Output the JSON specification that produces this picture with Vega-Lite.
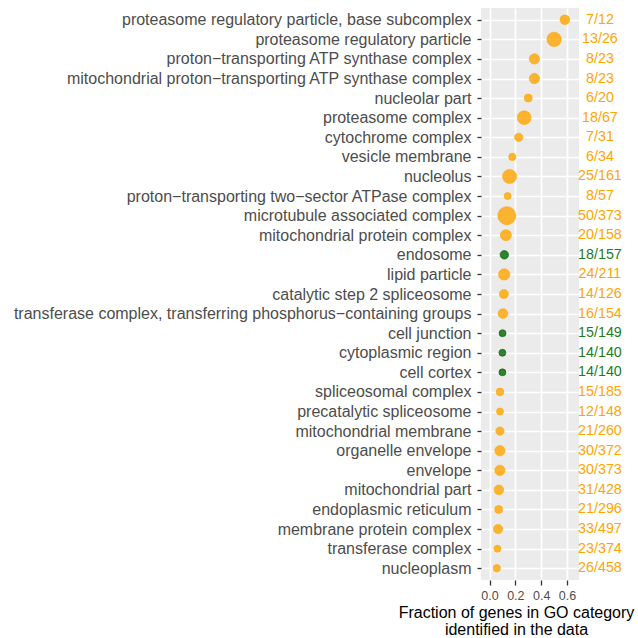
{
  "$schema": "https://vega.github.io/schema/vega-lite/v6.json",
  "autosize": {"type": "none"},
  "padding": {"left": 481, "top": 8, "right": 59, "bottom": 58},
  "width": 98,
  "height": 572,
  "config": {
    "font": "Liberation Sans",
    "view": {"fill": "#EBEBEB", "stroke": null},
    "axis": {"gridColor": "#FFFFFF", "gridWidth": 1.7, "domain": false, "tickColor": "#333333", "tickWidth": 1.3, "labelColor": "#4D4D4D"},
    "axisX": {
      "values": [0, 0.2, 0.4, 0.6], "format": ".1f", "labelFontSize": 12.5, "labelPadding": 4, "tickSize": 5, "labelOverlap": false, "labelFlush": false,
      "titleFontSize": 16, "titleFontWeight": "normal", "titleColor": "#000000",
      "titleLineHeight": 17, "titleBaseline": "alphabetic", "titleX": 35, "titleY": 37, "titleAlign": "center"
    }
  },
  "data": {
    "values": [
      {"term": "proteasome regulatory particle, base subcomplex", "fraction": 0.5833, "label": "7/12", "group": "orange", "score": 9.4},
      {"term": "proteasome regulatory particle", "fraction": 0.5, "label": "13/26", "group": "orange", "score": 20.4},
      {"term": "proton−transporting ATP synthase complex", "fraction": 0.3478, "label": "8/23", "group": "orange", "score": 10.6},
      {"term": "mitochondrial proton−transporting ATP synthase complex", "fraction": 0.3478, "label": "8/23", "group": "orange", "score": 10.6},
      {"term": "nucleolar part", "fraction": 0.3, "label": "6/20", "group": "orange", "score": 6.4},
      {"term": "proteasome complex", "fraction": 0.2687, "label": "18/67", "group": "orange", "score": 18.8},
      {"term": "cytochrome complex", "fraction": 0.2258, "label": "7/31", "group": "orange", "score": 6.9},
      {"term": "vesicle membrane", "fraction": 0.1765, "label": "6/34", "group": "orange", "score": 5.3},
      {"term": "nucleolus", "fraction": 0.1553, "label": "25/161", "group": "orange", "score": 19.6},
      {"term": "proton−transporting two−sector ATPase complex", "fraction": 0.1404, "label": "8/57", "group": "orange", "score": 4.9},
      {"term": "microtubule associated complex", "fraction": 0.134, "label": "50/373", "group": "orange", "score": 32.4},
      {"term": "mitochondrial protein complex", "fraction": 0.1266, "label": "20/158", "group": "orange", "score": 12.1},
      {"term": "endosome", "fraction": 0.1146, "label": "18/157", "group": "green", "score": 7.2},
      {"term": "lipid particle", "fraction": 0.1137, "label": "24/211", "group": "orange", "score": 12.8},
      {"term": "catalytic step 2 spliceosome", "fraction": 0.1111, "label": "14/126", "group": "orange", "score": 8.1},
      {"term": "transferase complex, transferring phosphorus−containing groups", "fraction": 0.1039, "label": "16/154", "group": "orange", "score": 9.4},
      {"term": "cell junction", "fraction": 0.1007, "label": "15/149", "group": "green", "score": 4.9},
      {"term": "cytoplasmic region", "fraction": 0.1, "label": "14/140", "group": "green", "score": 4.9},
      {"term": "cell cortex", "fraction": 0.1, "label": "14/140", "group": "green", "score": 4.9},
      {"term": "spliceosomal complex", "fraction": 0.0811, "label": "15/185", "group": "orange", "score": 5.9},
      {"term": "precatalytic spliceosome", "fraction": 0.0811, "label": "12/148", "group": "orange", "score": 4.9},
      {"term": "mitochondrial membrane", "fraction": 0.0808, "label": "21/260", "group": "orange", "score": 6.9},
      {"term": "organelle envelope", "fraction": 0.0806, "label": "30/372", "group": "orange", "score": 10.6},
      {"term": "envelope", "fraction": 0.0804, "label": "30/373", "group": "orange", "score": 10.6},
      {"term": "mitochondrial part", "fraction": 0.0724, "label": "31/428", "group": "orange", "score": 9.4},
      {"term": "endoplasmic reticulum", "fraction": 0.0709, "label": "21/296", "group": "orange", "score": 6.4},
      {"term": "membrane protein complex", "fraction": 0.0664, "label": "33/497", "group": "orange", "score": 8.6},
      {"term": "transferase complex", "fraction": 0.0615, "label": "23/374", "group": "orange", "score": 4.9},
      {"term": "nucleoplasm", "fraction": 0.0568, "label": "26/458", "group": "orange", "score": 5.3}
    ]
  },
  "encoding": {
    "y": {
      "field": "term", "type": "nominal", "sort": null,
      "scale": {"type": "point", "padding": 0.6},
      "axis": {"title": null, "labelFontSize": 16, "labelPadding": 6, "tickSize": 4, "grid": true, "labelLimit": 600}
    }
  },
  "layer": [
    {
      "mark": {"type": "circle", "fillOpacity": 0.8, "strokeWidth": 1, "strokeOpacity": 0.6},
      "encoding": {
        "x": {
          "field": "fraction", "type": "quantitative",
          "scale": {"domain": [-0.066, 0.693], "nice": false, "zero": false},
          "title": ["Fraction of genes in GO category", "identified in the data"]
        },
        "size": {"field": "score", "type": "quantitative", "scale": {"domain": [0, 32.4], "range": [0, 324], "zero": true}, "legend": null},
        "fill": {"field": "group", "type": "nominal", "scale": {"domain": ["orange", "green"], "range": ["#FFA500", "#006400"]}, "legend": null},
        "stroke": {"field": "group", "type": "nominal", "scale": {"domain": ["orange", "green"], "range": ["#FFA500", "#006400"]}, "legend": null}
      }
    },
    {
      "mark": {"type": "text", "fontSize": 14.3, "align": "center", "baseline": "middle"},
      "encoding": {
        "x": {"datum": 0.855, "type": "quantitative", "title": ["Fraction of genes in GO category", "identified in the data"]},
        "text": {"field": "label"},
        "color": {"field": "group", "type": "nominal", "scale": {"domain": ["orange", "green"], "range": ["#FFA500", "#1E7D1E"]}, "legend": null}
      }
    }
  ]
}
